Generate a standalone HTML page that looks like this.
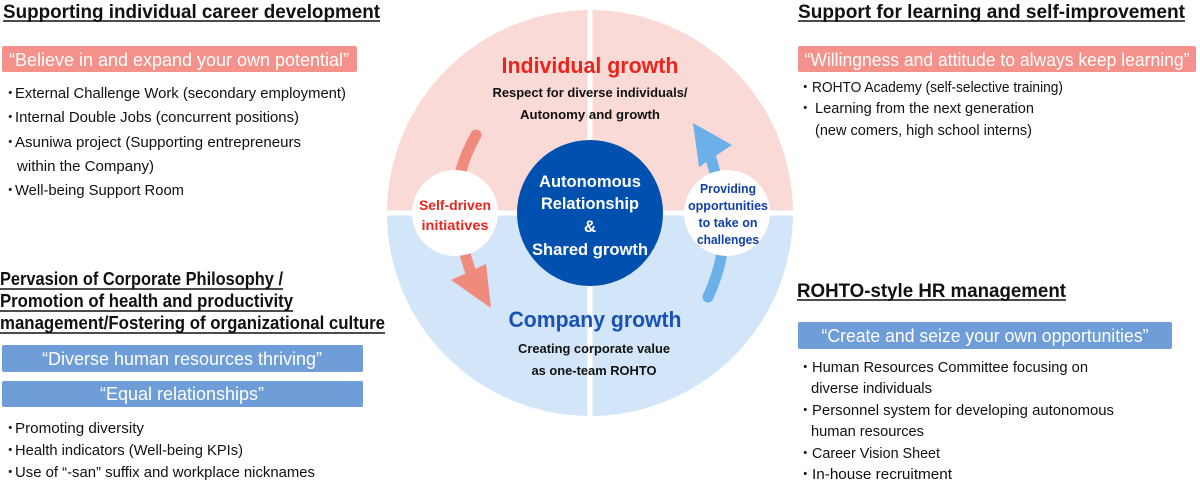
<!DOCTYPE html>
<html><head><meta charset="utf-8"><style>
html,body{margin:0;padding:0;background:#fff;}
svg{display:block;font-family:"Liberation Sans",sans-serif;}
</style></head><body>
<svg width="1200" height="480" viewBox="0 0 1200 480" xmlns="http://www.w3.org/2000/svg">
<path d="M590,213 L387,213 A203,203 0 0 1 590,10 Z" fill="#fadad6"/>
<path d="M590,213 L590,10 A203,203 0 0 1 793,213 Z" fill="#fadad6"/>
<path d="M590,213 L793,213 A203,203 0 0 1 590,416 Z" fill="#d3e5f8"/>
<path d="M590,213 L590,416 A203,203 0 0 1 387,213 Z" fill="#d3e5f8"/>
<line x1="590" y1="5" x2="590" y2="420" stroke="#fff" stroke-width="5"/>
<line x1="382" y1="213" x2="798" y2="213" stroke="#fff" stroke-width="5"/>
<path d="M476,135 Q445,190 462,245 Q470,270 474,282" fill="none" stroke="#f08a7c" stroke-width="11" stroke-linecap="round"/>
<polygon points="451,280 486,264 491,308" fill="#f08a7c"/>
<path d="M708,297 Q730,250 722,200 Q716,175 710,155" fill="none" stroke="#6cb0ea" stroke-width="11" stroke-linecap="round"/>
<polygon points="693,123 732,145 699,167" fill="#6cb0ea"/>
<circle cx="455" cy="213" r="43" fill="#fff"/>
<circle cx="727" cy="213" r="43" fill="#fff"/>
<circle cx="590" cy="213" r="73" fill="#0050b0"/>
<g font-weight="bold" text-anchor="middle">
<text x="590" y="73" font-size="22" fill="#e8261e" textLength="177" lengthAdjust="spacingAndGlyphs">Individual growth</text>
<text x="590" y="97" font-size="13" fill="#111" textLength="195" lengthAdjust="spacingAndGlyphs">Respect for diverse individuals/</text>
<text x="590" y="119" font-size="13" fill="#111" textLength="140" lengthAdjust="spacingAndGlyphs">Autonomy and growth</text>
<text x="590" y="187" font-size="17" fill="#fff" textLength="102" lengthAdjust="spacingAndGlyphs">Autonomous</text>
<text x="590" y="209" font-size="17" fill="#fff" textLength="98" lengthAdjust="spacingAndGlyphs">Relationship</text>
<text x="590" y="232" font-size="17" fill="#fff">&amp;</text>
<text x="590" y="255" font-size="17" fill="#fff" textLength="116" lengthAdjust="spacingAndGlyphs">Shared growth</text>
<text x="595" y="327" font-size="22" fill="#1a52b4" textLength="173" lengthAdjust="spacingAndGlyphs">Company growth</text>
<text x="594" y="353" font-size="13" fill="#111" textLength="152" lengthAdjust="spacingAndGlyphs">Creating corporate value</text>
<text x="594" y="375" font-size="13" fill="#111" textLength="125" lengthAdjust="spacingAndGlyphs">as one-team ROHTO</text>
<text x="455" y="210" font-size="14" fill="#e8261e" textLength="72" lengthAdjust="spacingAndGlyphs">Self-driven</text>
<text x="455" y="230" font-size="14" fill="#e8261e" textLength="67" lengthAdjust="spacingAndGlyphs">initiatives</text>
<text x="728" y="193" font-size="12.5" fill="#1040a8" textLength="56" lengthAdjust="spacingAndGlyphs">Providing</text>
<text x="728" y="210" font-size="12.5" fill="#1040a8" textLength="80" lengthAdjust="spacingAndGlyphs">opportunities</text>
<text x="728" y="227" font-size="12.5" fill="#1040a8" textLength="59" lengthAdjust="spacingAndGlyphs">to take on</text>
<text x="728" y="244" font-size="12.5" fill="#1040a8" textLength="62" lengthAdjust="spacingAndGlyphs">challenges</text>
</g>
<text x="3" y="18" font-size="19" font-weight="bold" fill="#111" textLength="377" lengthAdjust="spacingAndGlyphs">Supporting individual career development</text>
<line x1="3" y1="21" x2="380" y2="21" stroke="#111" stroke-width="1.5"/>
<rect x="2" y="46" width="355" height="26" rx="2" fill="#f4918a"/>
<text x="179" y="66" font-size="18" fill="#fff" text-anchor="middle" textLength="340" lengthAdjust="spacingAndGlyphs">“Believe in and expand your own potential”</text>
<g font-size="14.5" fill="#111">
<text x="3" y="98">・</text><text x="15" y="98" textLength="331" lengthAdjust="spacingAndGlyphs">External Challenge Work (secondary employment)</text>
<text x="3" y="122">・</text><text x="15" y="122" textLength="284" lengthAdjust="spacingAndGlyphs">Internal Double Jobs (concurrent positions)</text>
<text x="3" y="147">・</text><text x="15" y="147" textLength="286" lengthAdjust="spacingAndGlyphs">Asuniwa project (Supporting entrepreneurs</text>
<text x="17" y="171" textLength="137" lengthAdjust="spacingAndGlyphs">within the Company)</text>
<text x="3" y="195">・</text><text x="15" y="195" textLength="169" lengthAdjust="spacingAndGlyphs">Well-being Support Room</text>
</g>
<g font-size="18" font-weight="bold" fill="#111">
<text x="0" y="285" textLength="283" lengthAdjust="spacingAndGlyphs">Pervasion of Corporate Philosophy /</text>
<text x="0" y="307" textLength="293" lengthAdjust="spacingAndGlyphs">Promotion of health and productivity</text>
<text x="0" y="329" textLength="385" lengthAdjust="spacingAndGlyphs">management/Fostering of  organizational culture</text>
</g>
<g stroke="#111" stroke-width="1.5"><line x1="0" y1="289" x2="283" y2="289"/><line x1="0" y1="311" x2="293" y2="311"/><line x1="0" y1="333" x2="385" y2="333"/></g>
<rect x="2" y="345" width="361" height="27" rx="2" fill="#6f9dd8"/>
<rect x="2" y="381" width="361" height="26" rx="2" fill="#6f9dd8"/>
<text x="182" y="365" font-size="18" fill="#fff" text-anchor="middle" textLength="280" lengthAdjust="spacingAndGlyphs">“Diverse human resources thriving”</text>
<text x="182" y="400" font-size="18" fill="#fff" text-anchor="middle" textLength="164" lengthAdjust="spacingAndGlyphs">“Equal relationships”</text>
<g font-size="14.5" fill="#111">
<text x="3" y="433">・</text><text x="15" y="433" textLength="129" lengthAdjust="spacingAndGlyphs">Promoting diversity</text>
<text x="3" y="455">・</text><text x="15" y="455" textLength="228" lengthAdjust="spacingAndGlyphs">Health indicators (Well-being KPIs)</text>
<text x="3" y="477">・</text><text x="15" y="477" textLength="300" lengthAdjust="spacingAndGlyphs">Use of “-san” suffix and workplace nicknames</text>
</g>
<text x="798" y="18" font-size="19" font-weight="bold" fill="#111" textLength="387" lengthAdjust="spacingAndGlyphs">Support for learning and self-improvement</text>
<line x1="798" y1="21" x2="1185" y2="21" stroke="#111" stroke-width="1.5"/>
<rect x="798" y="46" width="398" height="26" rx="2" fill="#f4918a"/>
<text x="997" y="66" font-size="18" fill="#fff" text-anchor="middle" textLength="385" lengthAdjust="spacingAndGlyphs">“Willingness and attitude to always keep learning”</text>
<g font-size="14.5" fill="#111">
<text x="798" y="92">・</text><text x="812" y="92" textLength="251" lengthAdjust="spacingAndGlyphs">ROHTO Academy (self-selective training)</text>
<text x="798" y="113">・</text><text x="815" y="113" textLength="219" lengthAdjust="spacingAndGlyphs">Learning from the next generation</text>
<text x="815" y="135" textLength="217" lengthAdjust="spacingAndGlyphs">(new comers, high school interns)</text>
</g>
<text x="797" y="297" font-size="19" font-weight="bold" fill="#111" textLength="269" lengthAdjust="spacingAndGlyphs">ROHTO-style HR management</text>
<line x1="797" y1="300" x2="1066" y2="300" stroke="#111" stroke-width="1.5"/>
<rect x="798" y="322" width="374" height="27" rx="2" fill="#6f9dd8"/>
<text x="985" y="342" font-size="18" fill="#fff" text-anchor="middle" textLength="327" lengthAdjust="spacingAndGlyphs">“Create and seize your own opportunities”</text>
<g font-size="14.5" fill="#111">
<text x="798" y="372">・</text><text x="812" y="372" textLength="276" lengthAdjust="spacingAndGlyphs">Human Resources Committee focusing on</text>
<text x="811" y="393" textLength="121" lengthAdjust="spacingAndGlyphs">diverse individuals</text>
<text x="798" y="415">・</text><text x="812" y="415" textLength="302" lengthAdjust="spacingAndGlyphs">Personnel system for developing autonomous</text>
<text x="811" y="436" textLength="113" lengthAdjust="spacingAndGlyphs">human resources</text>
<text x="798" y="458">・</text><text x="812" y="458" textLength="128" lengthAdjust="spacingAndGlyphs">Career Vision Sheet</text>
<text x="798" y="479">・</text><text x="812" y="479" textLength="140" lengthAdjust="spacingAndGlyphs">In-house recruitment</text>
</g>
</svg>
</body></html>
